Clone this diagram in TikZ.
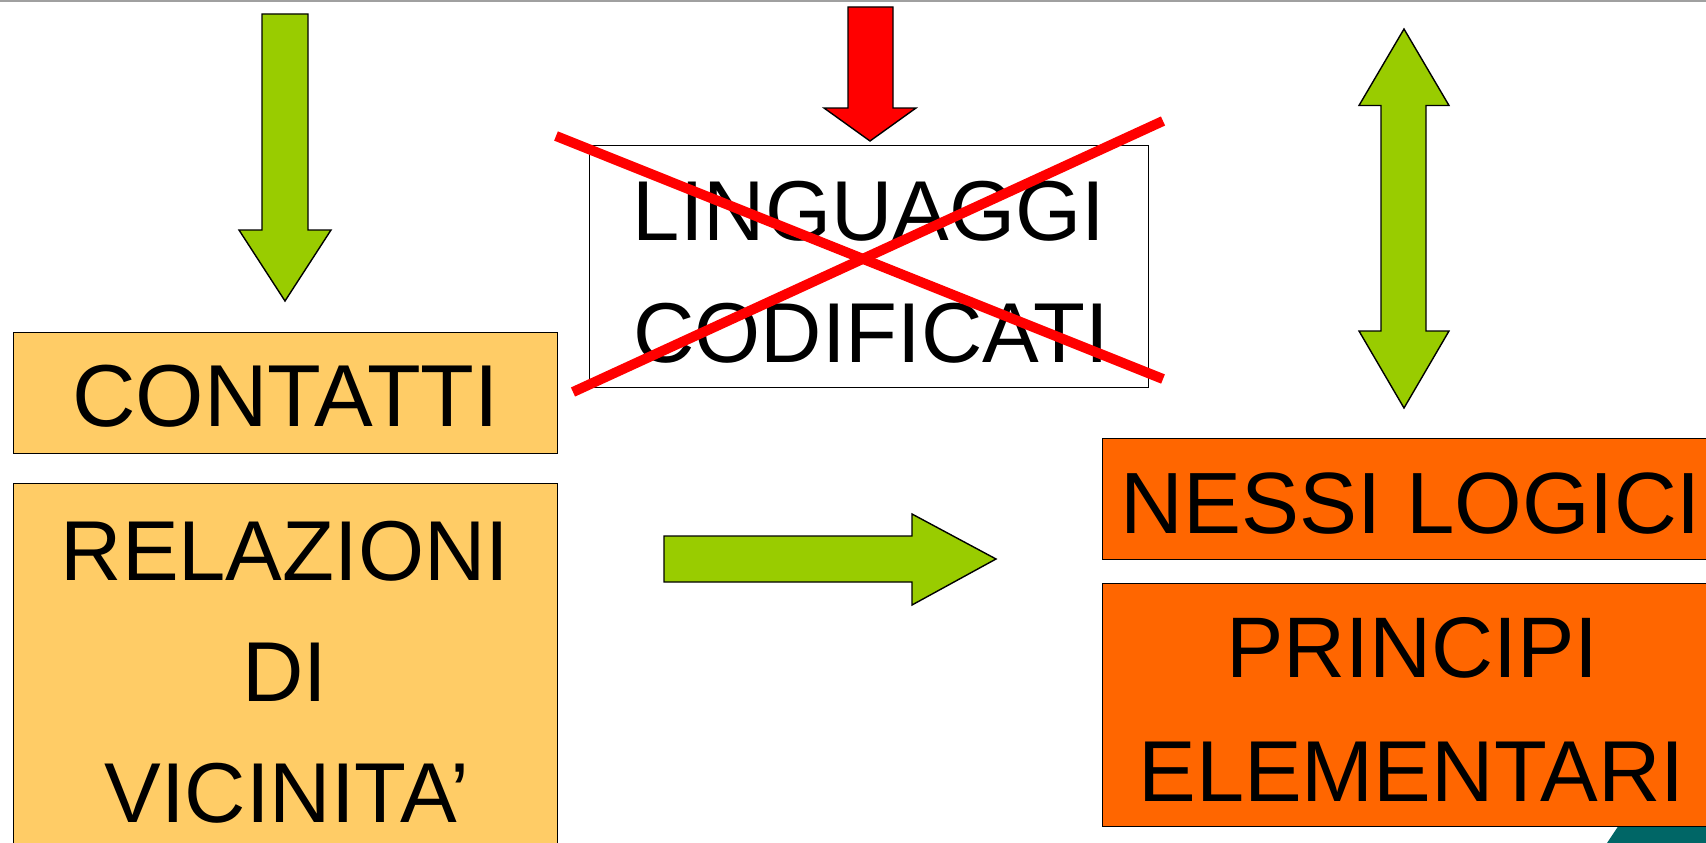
\documentclass[tikz,border=0pt]{standalone}
\usepackage{fontspec}
\setmainfont{Liberation Sans}
\definecolor{agreen}{HTML}{99CC00}
\definecolor{ared}{HTML}{FF0000}
\definecolor{lightorange}{HTML}{FFCC66}
\definecolor{darkorange}{HTML}{FF6600}
\definecolor{tealshape}{HTML}{006666}
\definecolor{topgray}{HTML}{A0A0A0}
\begin{document}
\begin{tikzpicture}[x=1pt,y=-1pt,
  box/.style={draw=black,line width=1pt,inner sep=0pt,outer sep=0pt},
  big/.style={font=\fontsize{#1}{122}\selectfont,inner sep=0pt,anchor=base},
  big/.default=86,
  blockarrow/.style={draw=black,line width=1.4pt,line join=miter},
  cross/.style={draw=ared,line width=10pt,line cap=butt}]
\useasboundingbox (0,0) rectangle (1706,843);
\clip (0,0) rectangle (1706,843);
\fill[white] (0,0) rectangle (1706,843);
\draw[topgray,line width=2pt] (0,1) -- (1706,1);

% teal corner shape
\fill[tealshape] (1607,843) -- (1618,826.5) -- (1706,826.5) -- (1706,843) -- cycle;

% boxes
\node[box,fill=white,minimum width=559pt,minimum height=242pt] (lingbox) at (868.5,266) {};
\node[box,fill=lightorange,minimum width=544pt,minimum height=121pt] (contbox) at (285,392.5) {};
\node[box,fill=lightorange,minimum width=544pt,minimum height=380pt] (relbox) at (285,673) {};
\node[box,fill=darkorange,minimum width=620pt,minimum height=121pt] (nessibox) at (1412,498.5) {};
\node[box,fill=darkorange,minimum width=620pt,minimum height=243pt] (princbox) at (1412,704.5) {};

% texts
\node[big=85] (t1) at (869,240.5) {LINGUAGGI};
\node[big=85] (t2) at (871,362.3) {CODIFICATI};
\node[big=88] (t3) at (285.5,426.5) {CONTATTI};
\node[big=85] (t4) at (285,580) {RELAZIONI};
\node[big=85] (t5) at (285,701.8) {DI};
\node[big=85] (t6) at (287,822.5) {VICINITA’};
\node[big=87] (t7) at (1411,533) {NESSI LOGICI};
\node[big=86] (t8) at (1412.5,677.8) {PRINCIPI};
\node[big=86.5] (t9) at (1411.5,801.9) {ELEMENTARI};

% red cross
\draw[cross] (556,136) -- (1163,379);
\draw[cross] (573,392) -- (1163,121);

% arrows
\draw[blockarrow,fill=agreen] (262,14) -- (308,14) -- (308,230) -- (331,230) -- (285,301) -- (239,230) -- (262,230) -- cycle;
\draw[blockarrow,fill=ared] (848,7) -- (893,7) -- (893,108) -- (916,108) -- (870,141) -- (824,108) -- (848,108) -- cycle;
\draw[blockarrow,fill=agreen] (1404,29) -- (1449,105.5) -- (1426,105.5) -- (1426,331) -- (1449,331) -- (1404,408) -- (1359,331) -- (1381,331) -- (1381,105.5) -- (1359,105.5) -- cycle;
\draw[blockarrow,fill=agreen] (664,536) -- (912,536) -- (912,514) -- (996,559) -- (912,605) -- (912,582) -- (664,582) -- cycle;
\end{tikzpicture}
\end{document}
